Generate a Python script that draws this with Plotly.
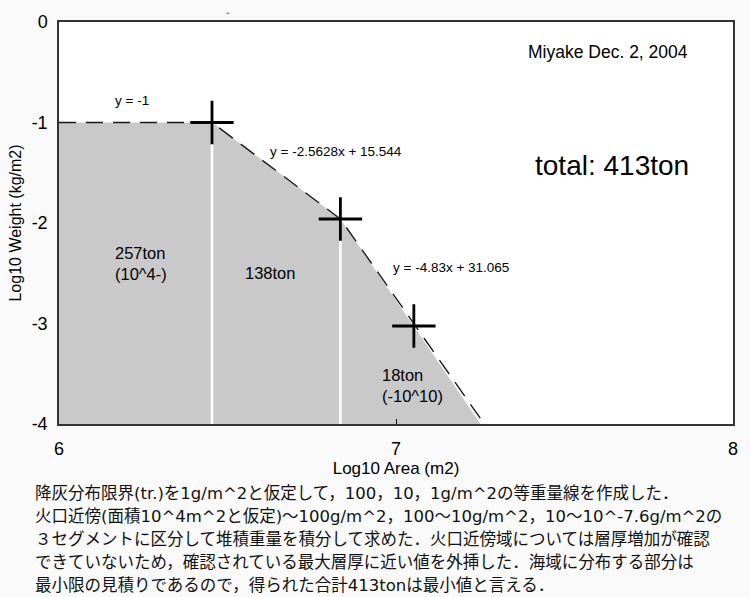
import plotly.graph_objects as go

# ---------------- data ----------------
EDGE_AREA = [6.0, 6.454, 6.835, 7.251]        # log10 area of the envelope vertices
EDGE_WEIGHT = [-1.0, -1.0, -1.96, -4.0]       # log10 weight of the envelope vertices
DASH_AREA = [6.0, 6.454, 6.835, 7.262]
DASH_WEIGHT = [-1.0, -1.0, -1.96, -4.0]
CROSS_AREA = [6.454, 6.835, 7.053]
CROSS_WEIGHT = [-1.0, -1.96, -3.025]
DIVIDER_AREA = [6.454, 6.835]
DIVIDER_TOP = [-1.0, -1.96]
AXIS_MIN_WEIGHT = -4.0

X_TICKS = [6, 7, 8]
Y_TICKS = [0, -1, -2, -3, -4]
Y_TICK_TEXT = ["0", "-1", "-2", "-3", "-4"]

SEGMENT_LABELS = ["257ton<br>(10^4-)", "138ton", "18ton<br>(-10^10)"]
SEGMENT_POS = [(6.159, -2.398, "left"), (6.625, -2.497, "center"), (6.953, -3.617, "left")]
EQUATIONS = ["y = -1", "y = -2.5628x + 15.544", "y = -4.83x + 31.065"]
EQUATION_POS = [(6.218, -0.786), (6.823, -1.284), (7.162, -2.438)]
TOTAL_LABEL = "total: 413ton"
EVENT_LABEL = "Miyake Dec. 2, 2004"

CAPTION_LINES = [
    "降灰分布限界(tr.)を1g/m^2と仮定して，100，10，1g/m^2の等重量線を作成した．",
    "火口近傍(面積10^4m^2と仮定)～100g/m^2，100～10g/m^2，10～10^-7.6g/m^2の",
    "３セグメントに区分して堆積重量を積分して求めた．火口近傍域については層厚増加が確認",
    "できていないため，確認されている最大層厚に近い値を外挿した．海域に分布する部分は",
    "最小限の見積りであるので，得られた合計413tonは最小値と言える．",
]

# ---------------- layout geometry ----------------
W, H = 750, 597
ML, MR, MT, MB = 59, 13, 22, 173
PW, PH = W - ML - MR, H - MT - MB
FONT = "Liberation Sans, Arial, sans-serif"

fig = go.Figure()

# shaded area
fig.add_trace(go.Scatter(
    x=EDGE_AREA + [EDGE_AREA[0]],
    y=EDGE_WEIGHT + [AXIS_MIN_WEIGHT],
    fill="toself", fillcolor="#c9c9c9", mode="none",
    hoverinfo="skip", showlegend=False))

# white segment dividers
dx, dy = [], []
for a, t in zip(DIVIDER_AREA, DIVIDER_TOP):
    dx += [a, a, None]
    dy += [AXIS_MIN_WEIGHT, t, None]
fig.add_trace(go.Scatter(x=dx, y=dy, mode="lines",
                         line=dict(color="white", width=2.5),
                         hoverinfo="skip", showlegend=False))

# dashed fit lines
fig.add_trace(go.Scatter(x=DASH_AREA, y=DASH_WEIGHT, mode="lines",
                         line=dict(color="#1a1a1a", width=1.4, dash="17px,10px"),
                         hoverinfo="skip", showlegend=False))

# crosses
fig.add_trace(go.Scatter(x=CROSS_AREA, y=CROSS_WEIGHT, mode="markers",
                         marker=dict(symbol="cross-thin", size=31,
                                     line=dict(color="black", width=2.8)),
                         hoverinfo="skip", showlegend=False))

ann = []
for txt, (x, y) in zip(EQUATIONS, EQUATION_POS):
    ann.append(dict(x=x, y=y, xref="x", yref="y", text=txt, showarrow=False,
                    font=dict(family=FONT, size=13.5, color="black")))
for txt, (x, y, al) in zip(SEGMENT_LABELS, SEGMENT_POS):
    ann.append(dict(x=x, y=y, xref="x", yref="y", text=txt, showarrow=False,
                    xanchor=al, align=al,
                    font=dict(family=FONT, size=16.5, color="black")))
ann.append(dict(x=7.640, y=-1.423, xref="x", yref="y", text=TOTAL_LABEL,
                showarrow=False, font=dict(family=FONT, size=28, color="black")))
ann.append(dict(x=7.628, y=-0.299, xref="x", yref="y", text=EVENT_LABEL,
                showarrow=False, font=dict(family=FONT, size=17.5, color="black")))
ann.append(dict(x=6.5, y=(PH + MT - 10) / PH, xref="x", yref="paper", text="ˇ",
                showarrow=False, font=dict(family=FONT, size=10, color="#333")))

cap_y = [493, 516, 539, 562, 585]
for txt, py in zip(CAPTION_LINES, cap_y):
    ann.append(dict(x=(33 - ML) / PW, y=(MT + PH - py) / PH, xref="paper", yref="paper",
                    text=txt, showarrow=False, xanchor="left", yanchor="middle",
                    align="left",
                    font=dict(family="DejaVu Sans, Noto Sans CJK JP",
                              size=16.5, color="#111")))

fig.update_layout(
    width=W, height=H, autosize=False,
    margin=dict(l=ML, r=MR, t=MT, b=MB, pad=0),
    paper_bgcolor="#fafafa", plot_bgcolor="white",
    annotations=ann,
    xaxis=dict(range=[6, 8], tickvals=X_TICKS, ticktext=[str(v) for v in X_TICKS],
               ticks="inside", ticklen=5, tickwidth=1, tickcolor="black",
               showline=True, linecolor="#333", linewidth=1.5, mirror=True,
               showgrid=False, zeroline=False, ticklabelstandoff=8,
               tickfont=dict(family=FONT, size=18, color="black"),
               title=dict(text="Log10 Area (m2)", standoff=3,
                          font=dict(family=FONT, size=17, color="black"))),
    yaxis=dict(range=[-4, 0], tickvals=Y_TICKS, ticktext=Y_TICK_TEXT,
               ticks="", showline=True, linecolor="#333", linewidth=1.5, mirror=True,
               showgrid=False, zeroline=False, ticklabelstandoff=6,
               tickfont=dict(family=FONT, size=18, color="black"),
               title=dict(text="Log10 Weight (kg/m2)", standoff=6,
                          font=dict(family=FONT, size=16, color="black"))),
)

fig.write_html("out.html")
